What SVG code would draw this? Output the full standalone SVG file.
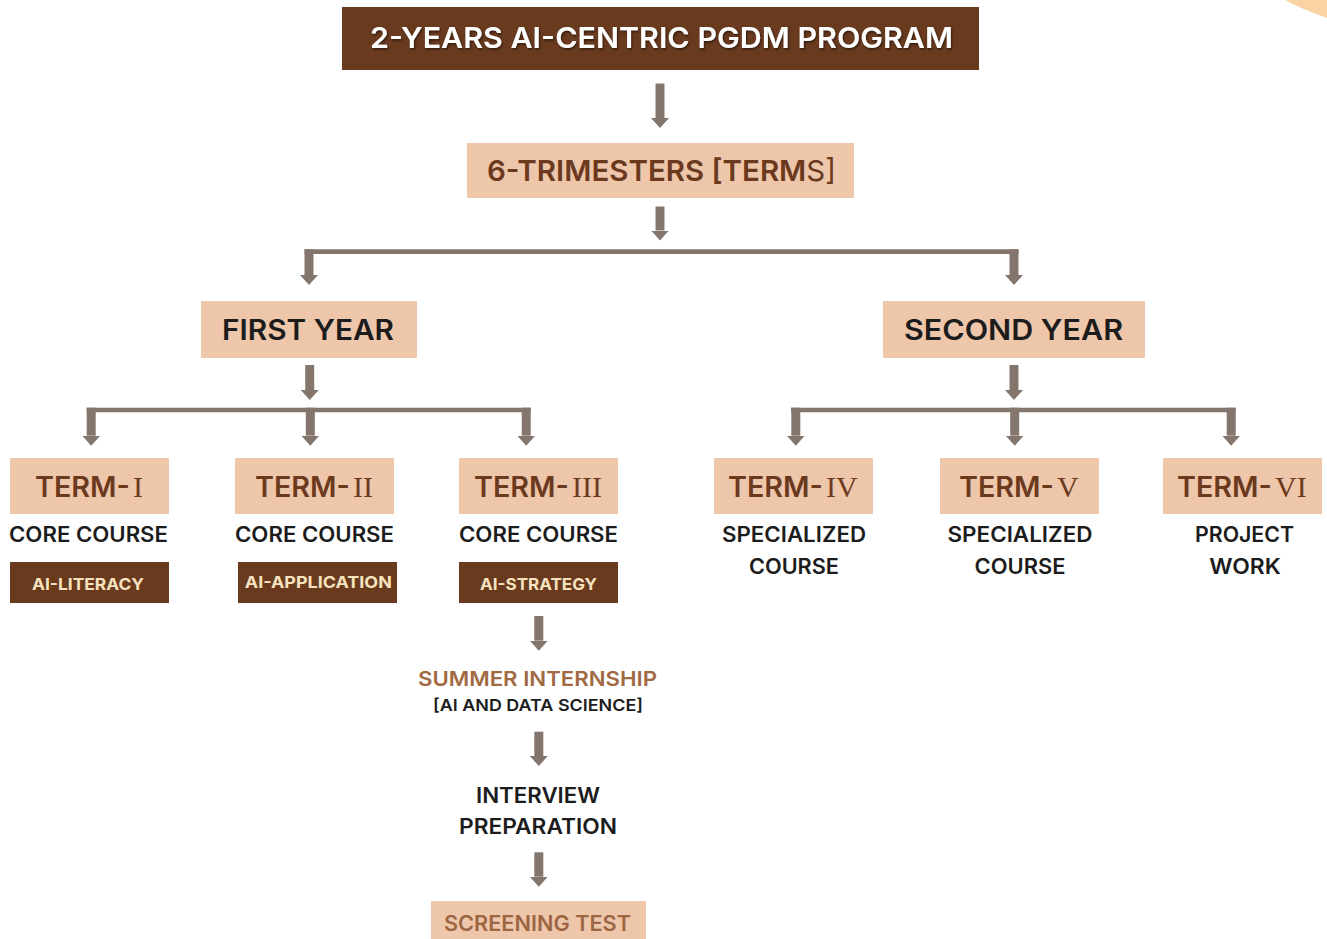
<svg xmlns="http://www.w3.org/2000/svg" width="1327" height="939" viewBox="0 0 1327 939">
<defs>
<marker id="ah" markerUnits="userSpaceOnUse" viewBox="0 -9 10 18" markerWidth="10" markerHeight="18" refX="0" refY="0" orient="auto"><path d="M0,-9 L10,0 L0,9 Z" fill="#84766C"/></marker>
<filter id="sh" x="-5%" y="-30%" width="110%" height="160%"><feDropShadow dx="1" dy="1.5" stdDeviation="1" flood-color="#000" flood-opacity="0.55"/></filter>
</defs>
<style>
.sans{font-family:Inter,"Open Sans","Liberation Sans",sans-serif;font-weight:600}
.roman{font-family:"Liberation Serif","DejaVu Serif",serif;font-weight:400;font-size:30px}
.peach{fill:#EEC6AA}
.dark{fill:#693A1E}
.arrow{stroke:#84766C;stroke-width:9;fill:none;marker-end:url(#ah)}
.bar{stroke:#84766C;stroke-width:4.6;fill:none}
.termt{fill:#6B3A1E;font-size:28px}
.blk{fill:#1C1C1C;font-size:21px}
.cream{fill:#F6E2BF;font-size:16px;font-weight:700}
.mid{text-anchor:middle}
</style>
<rect width="1327" height="939" fill="#FFFFFF"/>
<path d="M1285,0 C1298,7 1312,13 1327,18 L1327,0 Z" fill="#FAD3A5"/>

<g id="connectors">
<path class="arrow" d="M660,83.5 V118"/>
<path class="arrow" d="M660,206.5 V230.5"/>
<path class="bar" d="M304.5,251.6 H1018.5"/>
<path class="arrow" d="M309,249.3 V275"/>
<path class="arrow" d="M1014,249.3 V275"/>
<path class="arrow" d="M309.7,365 V390"/>
<path class="arrow" d="M1014,365 V390"/>
<path class="bar" d="M86.7,410 H530.7"/>
<path class="arrow" d="M91.2,407.7 V435.7"/>
<path class="arrow" d="M310.3,407.7 V435.7"/>
<path class="arrow" d="M526.2,407.7 V435.7"/>
<path class="bar" d="M791,410 H1235.7"/>
<path class="arrow" d="M795.8,407.7 V435.7"/>
<path class="arrow" d="M1014.7,407.7 V435.7"/>
<path class="arrow" d="M1231.2,407.7 V435.7"/>
<path class="arrow" d="M538.8,616 V640.7"/>
<path class="arrow" d="M538.8,731.7 V756"/>
<path class="arrow" d="M538.8,852.3 V876.7"/>
</g>

<g id="node-program">
<rect class="dark" x="342" y="7" width="637" height="63"/>
<text class="sans" x="370" y="48" font-size="29" fill="#FFFFFF" filter="url(#sh)" textLength="583" lengthAdjust="spacingAndGlyphs">2-YEARS AI-CENTRIC PGDM PROGRAM</text>
</g>

<g id="node-trimesters">
<rect class="peach" x="467" y="143" width="387" height="55"/>
<text class="sans" x="487" y="181" font-size="29" fill="#6B3A1E" textLength="349" lengthAdjust="spacingAndGlyphs">6-TRIMESTERS [TERM<tspan font-weight="400">S]</tspan></text>
</g>

<g id="node-first-year">
<rect class="peach" x="201" y="301" width="216" height="57"/>
<text class="sans" x="222" y="340" font-size="28" fill="#1C1C1C" textLength="172" lengthAdjust="spacingAndGlyphs">FIRST YEAR</text>
</g>

<g id="node-second-year">
<rect class="peach" x="883" y="301" width="262" height="57"/>
<text class="sans" x="904" y="340" font-size="28" fill="#1C1C1C" textLength="219" lengthAdjust="spacingAndGlyphs">SECOND YEAR</text>
</g>

<g id="node-term-1">
<rect class="peach" x="10" y="458" width="159" height="56"/>
<text class="sans termt" x="35" y="497"><tspan textLength="95" lengthAdjust="spacingAndGlyphs">TERM-</tspan><tspan class="roman" dx="3">I</tspan></text>
<text class="sans blk mid" x="88.5" y="542" textLength="159" lengthAdjust="spacingAndGlyphs">CORE COURSE</text>
<rect class="dark" x="10" y="562" width="159" height="41"/>
<text class="sans cream mid" x="88" y="590" textLength="112" lengthAdjust="spacingAndGlyphs">AI-LITERACY</text>
</g>

<g id="node-term-2">
<rect class="peach" x="235" y="458" width="159" height="56"/>
<text class="sans termt" x="255" y="497"><tspan textLength="95" lengthAdjust="spacingAndGlyphs">TERM-</tspan><tspan class="roman" dx="3">II</tspan></text>
<text class="sans blk mid" x="314.5" y="542" textLength="159" lengthAdjust="spacingAndGlyphs">CORE COURSE</text>
<rect class="dark" x="238" y="562" width="159" height="41"/>
<text class="sans cream mid" x="318.3" y="587.7" textLength="147" lengthAdjust="spacingAndGlyphs">AI-APPLICATION</text>
</g>

<g id="node-term-3">
<rect class="peach" x="459" y="458" width="159" height="56"/>
<text class="sans termt" x="474" y="497"><tspan textLength="95" lengthAdjust="spacingAndGlyphs">TERM-</tspan><tspan class="roman" dx="3">III</tspan></text>
<text class="sans blk mid" x="538.5" y="542" textLength="159" lengthAdjust="spacingAndGlyphs">CORE COURSE</text>
<rect class="dark" x="459" y="562" width="159" height="41"/>
<text class="sans cream mid" x="538.5" y="590" textLength="117" lengthAdjust="spacingAndGlyphs">AI-STRATEGY</text>
</g>

<g id="node-term-4">
<rect class="peach" x="714" y="458" width="159" height="56"/>
<text class="sans termt" x="728" y="497"><tspan textLength="95" lengthAdjust="spacingAndGlyphs">TERM-</tspan><tspan class="roman" dx="3">IV</tspan></text>
<text class="sans blk mid" x="794" y="542" textLength="144" lengthAdjust="spacingAndGlyphs">SPECIALIZED</text>
<text class="sans blk mid" x="794" y="574" textLength="90" lengthAdjust="spacingAndGlyphs">COURSE</text>
</g>

<g id="node-term-5">
<rect class="peach" x="940" y="458" width="159" height="56"/>
<text class="sans termt" x="959" y="497"><tspan textLength="95" lengthAdjust="spacingAndGlyphs">TERM-</tspan><tspan class="roman" dx="3">V</tspan></text>
<text class="sans blk mid" x="1020" y="542" textLength="145" lengthAdjust="spacingAndGlyphs">SPECIALIZED</text>
<text class="sans blk mid" x="1020" y="574" textLength="91" lengthAdjust="spacingAndGlyphs">COURSE</text>
</g>

<g id="node-term-6">
<rect class="peach" x="1163" y="458" width="159" height="56"/>
<text class="sans termt" x="1177" y="497"><tspan textLength="95" lengthAdjust="spacingAndGlyphs">TERM-</tspan><tspan class="roman" dx="3">VI</tspan></text>
<text class="sans blk mid" x="1244.5" y="542" textLength="99" lengthAdjust="spacingAndGlyphs">PROJECT</text>
<text class="sans blk mid" x="1245" y="574" textLength="71.5" lengthAdjust="spacingAndGlyphs">WORK</text>
</g>

<g id="node-internship">
<text class="sans mid" x="537.5" y="686" font-size="20.5" fill="#A26A43" textLength="239" lengthAdjust="spacingAndGlyphs">SUMMER INTERNSHIP</text>
<text class="sans mid" x="538" y="711" font-size="16.5" fill="#1C1C1C" textLength="210" lengthAdjust="spacingAndGlyphs">[AI AND DATA SCIENCE]</text>
</g>

<g id="node-interview">
<text class="sans blk mid" x="538" y="802.7" textLength="124" lengthAdjust="spacingAndGlyphs">INTERVIEW</text>
<text class="sans blk mid" x="538" y="834.3" textLength="158" lengthAdjust="spacingAndGlyphs">PREPARATION</text>
</g>

<g id="node-screening">
<rect class="peach" x="431" y="901" width="215" height="38"/>
<text class="sans mid" x="537.5" y="931" font-size="21" fill="#9C6643" textLength="187" lengthAdjust="spacingAndGlyphs">SCREENING TEST</text>
</g>
</svg>
